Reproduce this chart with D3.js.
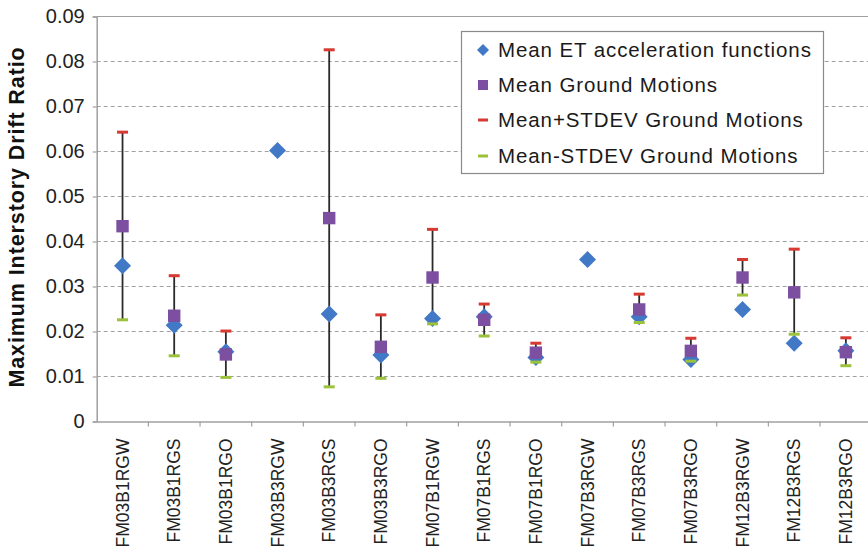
<!DOCTYPE html>
<html>
<head>
<meta charset="utf-8">
<script src="https://cdn.jsdelivr.net/npm/d3@7"></script>
<style>
  html, body { margin: 0; padding: 0; background: #fff; }
  svg { display: block; font-family: "Liberation Sans", Arial, sans-serif; }
</style>
</head>
<body>
<svg id="chart" width="868" height="551"></svg>
<script>
// Building-model cases along the x axis
const categories = ["FM03B1RGW","FM03B1RGS","FM03B1RGO","FM03B3RGW","FM03B3RGS","FM03B3RGO",
  "FM07B1RGW","FM07B1RGS","FM07B1RGO","FM07B3RGW","FM07B3RGS","FM07B3RGO",
  "FM12B3RGW","FM12B3RGS","FM12B3RGO"];

// Mean drift from endurance-time acceleration functions
const meanET = [0.0346,0.0214,0.0155,0.0602,0.0239,0.0148,0.0229,0.0233,0.0142,0.0360,0.0233,0.0138,0.0249,0.0174,0.0157];
// Mean drift from ground motions (null where no ground-motion results)
const meanGM = [0.0434,0.0235,0.0149,null,0.0452,0.0166,0.0320,0.0226,0.0153,null,0.0249,0.0157,0.0320,0.0287,0.0154];
// Mean + one standard deviation
const plusSD = [0.0643,0.0324,0.0201,null,0.0826,0.0237,0.0427,0.0261,0.0174,null,0.0283,0.0185,0.0360,0.0383,0.0186];
// Mean - one standard deviation
const minusSD = [0.0226,0.0146,0.0098,null,0.0077,0.0096,0.0217,0.0190,0.0132,null,0.0220,0.0134,0.0281,0.0194,0.0124];

const yTicks = [0,0.01,0.02,0.03,0.04,0.05,0.06,0.07,0.08,0.09];
const legendLabels = ["Mean ET acceleration functions","Mean Ground Motions",
  "Mean+STDEV Ground Motions","Mean-STDEV Ground Motions"];

const colors = { et: "#4279c6", gm: "#7d4fa0", plus: "#d63a32", minus: "#9cc13a" };

const svg = d3.select("#chart");
const plotLeft = 96.7, plotRight = 871.7, plotTop = 16.5, plotBottom = 421.5;

const x = d3.scaleBand().domain(categories).range([plotLeft, plotRight]).padding(0);
const y = d3.scaleLinear().domain([0, 0.09]).range([plotBottom, plotTop]);

// dashed horizontal gridlines
svg.append("g").selectAll("line").data(yTicks.filter(d => d > 0 && d < 0.09)).join("line")
  .attr("x1", plotLeft).attr("x2", plotRight)
  .attr("y1", d => y(d)).attr("y2", d => y(d))
  .attr("stroke", "#a0a0a0").attr("stroke-width", 1).attr("stroke-dasharray", "4,3");

// plot frame: top border
svg.append("line").attr("x1", plotLeft).attr("x2", plotRight).attr("y1", plotTop).attr("y2", plotTop)
  .attr("stroke", "#a0a0a0").attr("stroke-width", 1.2);

// y axis
const yAxis = svg.append("g").attr("transform", `translate(${plotLeft},0)`)
  .call(d3.axisLeft(y).tickValues(yTicks).tickSize(4).tickPadding(8)
    .tickFormat(d => d === 0 ? "0" : d3.format(".2f")(d)));
yAxis.select(".domain").attr("stroke", "#a0a0a0").attr("stroke-width", 1.5);
yAxis.selectAll(".tick line").attr("stroke", "#a0a0a0").attr("stroke-width", 1.2);
yAxis.selectAll("text").attr("font-size", 20).attr("fill", "#222")
  .attr("font-family", "'Liberation Sans', Arial, sans-serif");

// x axis with ticks at category boundaries
const xAxis = svg.append("g").attr("transform", `translate(0,${plotBottom})`)
  .call(d3.axisBottom(x).tickSize(0).tickFormat(""));
xAxis.select(".domain").attr("stroke", "#a0a0a0").attr("stroke-width", 1.5);
svg.append("g").selectAll("line").data(categories).join("line")
  .attr("x1", d => x(d) + x.bandwidth())
  .attr("x2", d => x(d) + x.bandwidth())
  .attr("y1", plotBottom).attr("y2", plotBottom + 5)
  .attr("stroke", "#a0a0a0").attr("stroke-width", 1.2);

// rotated category labels
svg.append("g").selectAll("text").data(categories).join("text")
  .attr("transform", d => `translate(${x(d) + x.bandwidth() / 2 + 6},${plotBottom + 17}) rotate(-90)`)
  .attr("text-anchor", "end")
  .attr("font-size", 17.5).attr("fill", "#222")
  .text(d => d);

// y axis title
svg.append("text")
  .attr("transform", `translate(24,${(plotTop + plotBottom) / 2 - 2}) rotate(-90)`)
  .attr("text-anchor", "middle").attr("font-weight", "bold").attr("font-size", 21.5)
  .attr("letter-spacing", 0.9).attr("fill", "#111")
  .text("Maximum Interstory Drift Ratio");

const idx = d3.range(categories.length);
const cx = i => x(categories[i]) + x.bandwidth() / 2;

// error bars between mean-STDEV and mean+STDEV
svg.append("g").selectAll("line").data(idx.filter(i => plusSD[i] != null)).join("line")
  .attr("x1", cx).attr("x2", cx)
  .attr("y1", i => y(plusSD[i])).attr("y2", i => y(minusSD[i]))
  .attr("stroke", "#2a2a2a").attr("stroke-width", 1.8);

const diamond = (s) => `M0,${-s}L${s},0L0,${s}L${-s},0Z`;

// Mean ET markers
svg.append("g").selectAll("path").data(idx).join("path")
  .attr("transform", i => `translate(${cx(i)},${y(meanET[i])})`)
  .attr("d", diamond(8.5)).attr("fill", colors.et);

// Mean ground motion markers
svg.append("g").selectAll("rect").data(idx.filter(i => meanGM[i] != null)).join("rect")
  .attr("x", i => cx(i) - 6.2).attr("y", i => y(meanGM[i]) - 6.2)
  .attr("width", 12.4).attr("height", 12.4).attr("fill", colors.gm);

// Mean +/- STDEV dashes
svg.append("g").selectAll("rect").data(idx.filter(i => plusSD[i] != null)).join("rect")
  .attr("x", i => cx(i) - 5.5).attr("y", i => y(plusSD[i]) - 1.5)
  .attr("width", 11).attr("height", 3).attr("fill", colors.plus);
svg.append("g").selectAll("rect").data(idx.filter(i => minusSD[i] != null)).join("rect")
  .attr("x", i => cx(i) - 5.5).attr("y", i => y(minusSD[i]) - 1.5)
  .attr("width", 11).attr("height", 3).attr("fill", colors.minus);

// legend
const lg = svg.append("g");
lg.append("rect").attr("x", 461.5).attr("y", 31.5).attr("width", 362).attr("height", 142)
  .attr("fill", "#fff").attr("stroke", "#8a8a8a").attr("stroke-width", 1.2);
const rowY = [50, 85, 120, 156];
lg.append("path").attr("transform", `translate(483,${rowY[0]})`).attr("d", diamond(6)).attr("fill", colors.et);
lg.append("rect").attr("x", 478).attr("y", rowY[1] - 5).attr("width", 10).attr("height", 10).attr("fill", colors.gm);
lg.append("rect").attr("x", 478).attr("y", rowY[2] - 1.5).attr("width", 10).attr("height", 3).attr("fill", colors.plus);
lg.append("rect").attr("x", 478).attr("y", rowY[3] - 1.5).attr("width", 10).attr("height", 3).attr("fill", colors.minus);
lg.selectAll("text.lab").data(legendLabels).join("text").attr("class", "lab")
  .attr("x", 498).attr("y", (d, i) => rowY[i]).attr("dy", "0.35em")
  .attr("font-size", 20.5).attr("letter-spacing", 0.9).attr("fill", "#1a1a1a")
  .text(d => d);
</script>
</body>
</html>
